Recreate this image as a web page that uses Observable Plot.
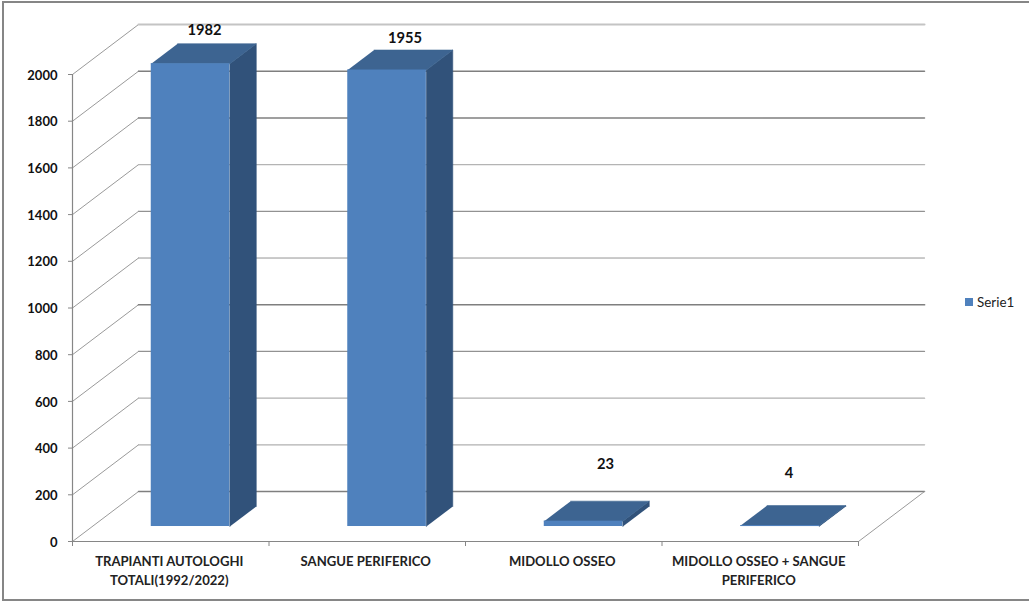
<!DOCTYPE html>
<html>
<head>
<meta charset="utf-8">
<script src="https://cdn.jsdelivr.net/npm/d3@7"></script>
<script src="https://cdn.jsdelivr.net/npm/@observablehq/plot@0.6"></script>
<style>
html,body{margin:0;padding:0;background:#fff;overflow:hidden}
#chart{position:relative;width:1029px;height:601px;font-family:Lato,sans-serif}
#chart svg{position:absolute;left:0;top:0;background:#fff}
#frame{position:absolute;left:2px;top:1px;width:1040px;height:600px;box-sizing:border-box;border:2px solid #868686;pointer-events:none}
#legend{position:absolute;left:965px;top:294px;display:flex;align-items:center;font-size:13.4px;color:#222}
#legend i{display:block;width:8px;height:8px;background:#4f81bd;margin-right:4px}
</style>
</head>
<body>
<div id="chart"></div>
<script>
const categories = ["TRAPIANTI AUTOLOGHI\nTOTALI(1992/2022)", "SANGUE PERIFERICO", "MIDOLLO OSSEO", "MIDOLLO OSSEO + SANGUE\nPERIFERICO"];
const values = [1982, 1955, 23, 4];
const yTicks = [0, 200, 400, 600, 800, 1000, 1200, 1400, 1600, 1800, 2000];
const seriesName = "Serie1";

// oblique projection: depth d in 0..1 shifts a point along the x and y scales
const depthX = 0.336, depthY = 214;
const px = (x, d) => x + d * depthX;
const py = (y, d) => y + d * depthY;
const pt = (id, x, y, d) => ({id, x: px(x, d), y: py(y, d)});
const barW = 0.4, d0 = 0.3, d1 = 0.7;
const n = categories.length;

const diagonals = yTicks.flatMap(v => [pt(v, 0, v, 0), pt(v, 0, v, 1)]);
const floorPts = [pt("f", n, 0, 1), pt("f", n, 0, 0)];
const bars = values.map((v, i) => ({i, v, a: i + 0.5 - barW / 2, b: i + 0.5 + barW / 2}));
const sides = bars.flatMap(({i, v, b}) => [pt(i, b, 0, d0), pt(i, b, v, d0), pt(i, b, v, d1), pt(i, b, 0, d1)]);
const tops = bars.flatMap(({i, v, a, b}) => [pt(i, a, v, d0), pt(i, b, v, d0), pt(i, b, v, d1), pt(i, a, v, d1)]);
const labelNudge = [[14, -33], [18, -32], [22, -57], [9, -52]];
// the back-wall lines in the reference differ in weight, bottom to top
const lineLooks = [["#7f7f7f", 1.5], ["#b0b0b0", 1.4], ["#b0b0b0", 1.4], ["#929292", 1.2], ["#7f7f7f", 1.7], ["#959595", 1],
                   ["#929292", 1.2], ["#b4b4b4", 1.4], ["#7f7f7f", 1.5], ["#7f7f7f", 1.5], ["#c4c4c4", 2]];

const plot = Plot.plot({
  width: 1029, height: 601,
  marginLeft: 72, marginRight: 171, marginTop: 74, marginBottom: 60,
  style: {fontFamily: "Lato, sans-serif", overflow: "visible"},
  x: {domain: [0, n]},
  y: {domain: [0, 2000]},
  marks: [
    Plot.line(diagonals, {x: "x", y: "y", z: "id", stroke: "#9a9a9a", strokeWidth: 1}),
    yTicks.map((v, i) => Plot.line([pt(v, 0, v, 1), pt(v, n, v, 1)], {x: "x", y: "y", stroke: lineLooks[i][0], strokeWidth: lineLooks[i][1]})),
    Plot.line(floorPts, {x: "x", y: "y", stroke: "#9a9a9a", strokeWidth: 1}),
    Plot.ruleX([0], {y1: 0, y2: 2000, stroke: "#868686", strokeWidth: 1.2}),
    Plot.ruleY([0], {x1: 0, x2: n, stroke: "#868686", strokeWidth: 1.2}),
    Plot.axisY({ticks: yTicks, tickSize: 4, stroke: "#868686", label: null, tickFormat: () => ""}),
    Plot.axisY({ticks: yTicks, tickSize: 0, tickPadding: 15, dy: 1, label: null,
      fontSize: 13, fontWeight: 700, fill: "#111", tickFormat: d => String(d)}),
    Plot.axisX({ticks: d3.range(n + 1), tickSize: 5, stroke: "#868686", tickFormat: () => "", label: null}),
    Plot.axisX({ticks: d3.range(n).map(i => i + 0.5), tickSize: 0, tickPadding: 11, dx: -1.5, label: null,
      tickFormat: d => categories[d - 0.5], fontSize: 13.1, fontWeight: 700, lineHeight: 1.45, fill: "#222"}),
    Plot.line(sides, {x: "x", y: "y", z: "id", fill: "#31527a", stroke: "#31527a", strokeWidth: 0.6}),
    Plot.line(tops, {x: "x", y: "y", z: "id", fill: "#3d6491", stroke: "#3d6491", strokeWidth: 0.6}),
    Plot.rectY(bars, {x1: d => px(d.a, d0), x2: d => px(d.b, d0), y1: py(0, d0), y2: d => py(d.v, d0), fill: "#4f81bd", inset: 0}),
    bars.map(({i, v, a, b}) => Plot.text([v], {
      x: px((a + b) / 2, d0), y: py(v, d0), text: d => String(d),
      dx: labelNudge[i][0], dy: labelNudge[i][1], fontSize: 14.7, fontWeight: 700, fill: "#111"
    }))
  ]
});
const chart = document.getElementById("chart");
chart.append(plot);
const frame = document.createElement("div"); frame.id = "frame"; chart.append(frame);
const legend = document.createElement("div"); legend.id = "legend";
legend.innerHTML = "<i></i>";
legend.append(seriesName);
chart.append(legend);
</script>
</body>
</html>
